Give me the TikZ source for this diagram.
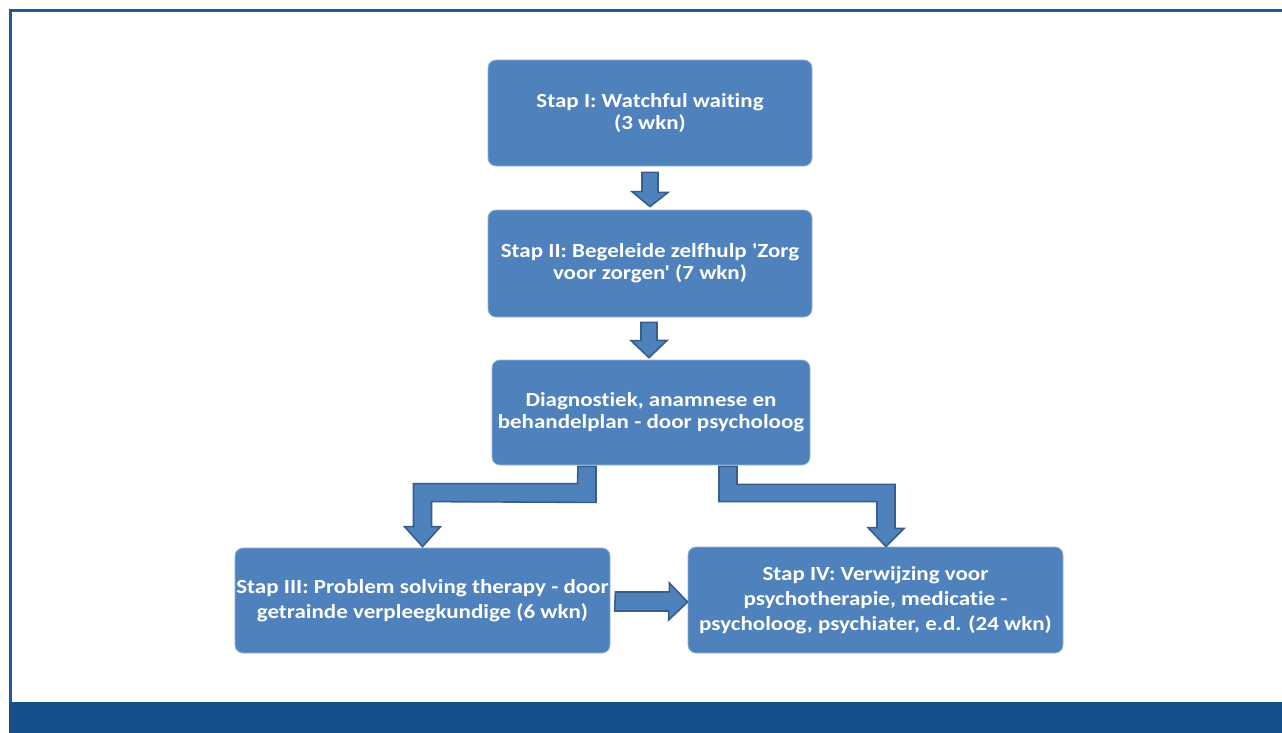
\documentclass[tikz,border=0pt]{standalone}
\usepackage{fontspec}
\setmainfont{Carlito}[Ligatures={TeXOff,NoCommon}, FakeStretch=1.15]
\usetikzlibrary{calc}
\definecolor{boxblue}{RGB}{79,129,189}
\definecolor{arrowline}{RGB}{56,93,138}
\definecolor{framblue}{RGB}{31,90,154}
\definecolor{bandblue}{RGB}{21,79,140}
\tikzset{
  stepbox/.style={rectangle, rounded corners=8pt, fill=boxblue, draw=boxblue!60!white, line width=0.8pt,
    text=white, font=\bfseries\fontsize{20}{21.7}\selectfont, align=center, inner sep=0pt},
  widebox/.style={stepbox, font=\bfseries\fontsize{20}{25}\selectfont},
  blockarrow/.style={fill=boxblue, draw=arrowline, line width=1.6pt, line join=miter}
}
\begin{document}
\begin{tikzpicture}[x=1pt,y=-1pt]
\useasboundingbox (0,0) rectangle (1282,733);
\fill[white] (0,0) rectangle (1282,733);
% frame
\draw[framblue, line width=3pt] (10.5,702) -- (10.5,10.5) -- (1282,10.5);
\fill[bandblue] (9,702) rectangle (1282,733);
% boxes
\node[stepbox, minimum width=324pt, minimum height=106pt] (b1) at (650,113) {Stap I: Watchful waiting\\(3 wkn)};
\node[stepbox, minimum width=324pt, minimum height=107pt] (b2) at (650,263.5) {Stap II: Begeleide zelfhulp 'Zorg\\voor zorgen' (7 wkn)};
\node[stepbox, minimum width=318pt, minimum height=105pt] (b3) at (651,412.5) {Diagnostiek, anamnese en\\behandelplan - door psycholoog};
\node[widebox, minimum width=375pt, minimum height=105pt] (b4) at (422.5,600.5) {Stap III: Problem solving therapy - door\\getrainde verpleegkundige (6 wkn)};
\node[widebox, minimum width=375pt, minimum height=106pt] (b5) at (875.5,600) {Stap IV: Verwijzing voor\\psychotherapie, medicatie -\\psycholoog, psychiater, e.d. (24 wkn)};
% straight block arrows
\draw[blockarrow] ($(b1.south)+(-8,6)$) -- ++(16,0) -- ++(0,20) -- ++(10,0) -- ($(b2.north)+(0,-3)$) -- ++(-18,-15) -- ++(10,0) -- cycle;
\draw[blockarrow] ($(b2.south)+(-9,5)$) -- ++(16,0) -- ++(0,18) -- ++(10,0) -- ($(b3.north)+(-2,-2)$) -- ++(-18,-17) -- ++(10,0) -- cycle;
% elbow block arrows
\draw[blockarrow] ($(b3.south)+(-73,1)$) -- ++(18,0) -- ++(0,36) -- ($(b4.north)+(9,-46)$) -- ++(0,25) -- ++(9,0) -- ($(b4.north)+(0,-1)$) -- ++(-18,-20) -- ++(9,0) -- ++(0,-43) -- ++(164,0) -- cycle;
\draw[blockarrow] ($(b3.south)+(68,1)$) -- ++(18,0) -- ++(0,18) -- ++(158,0) -- ++(0,44) -- ++(9,0) -- ($(b5.north)+(10.5,0)$) -- ++(-18,-19) -- ++(9,0) -- ++(0,-26) -- ++(-158,0) -- cycle;
% horizontal block arrow
\draw[blockarrow] ($(b4.east)+(5,-8.5)$) -- ++(54,0) -- ++(0,-9) -- ($(b5.west)+(0,2)$) -- ++(-19,18) -- ++(0,-9) -- ++(-54,0) -- cycle;
\end{tikzpicture}
\end{document}
